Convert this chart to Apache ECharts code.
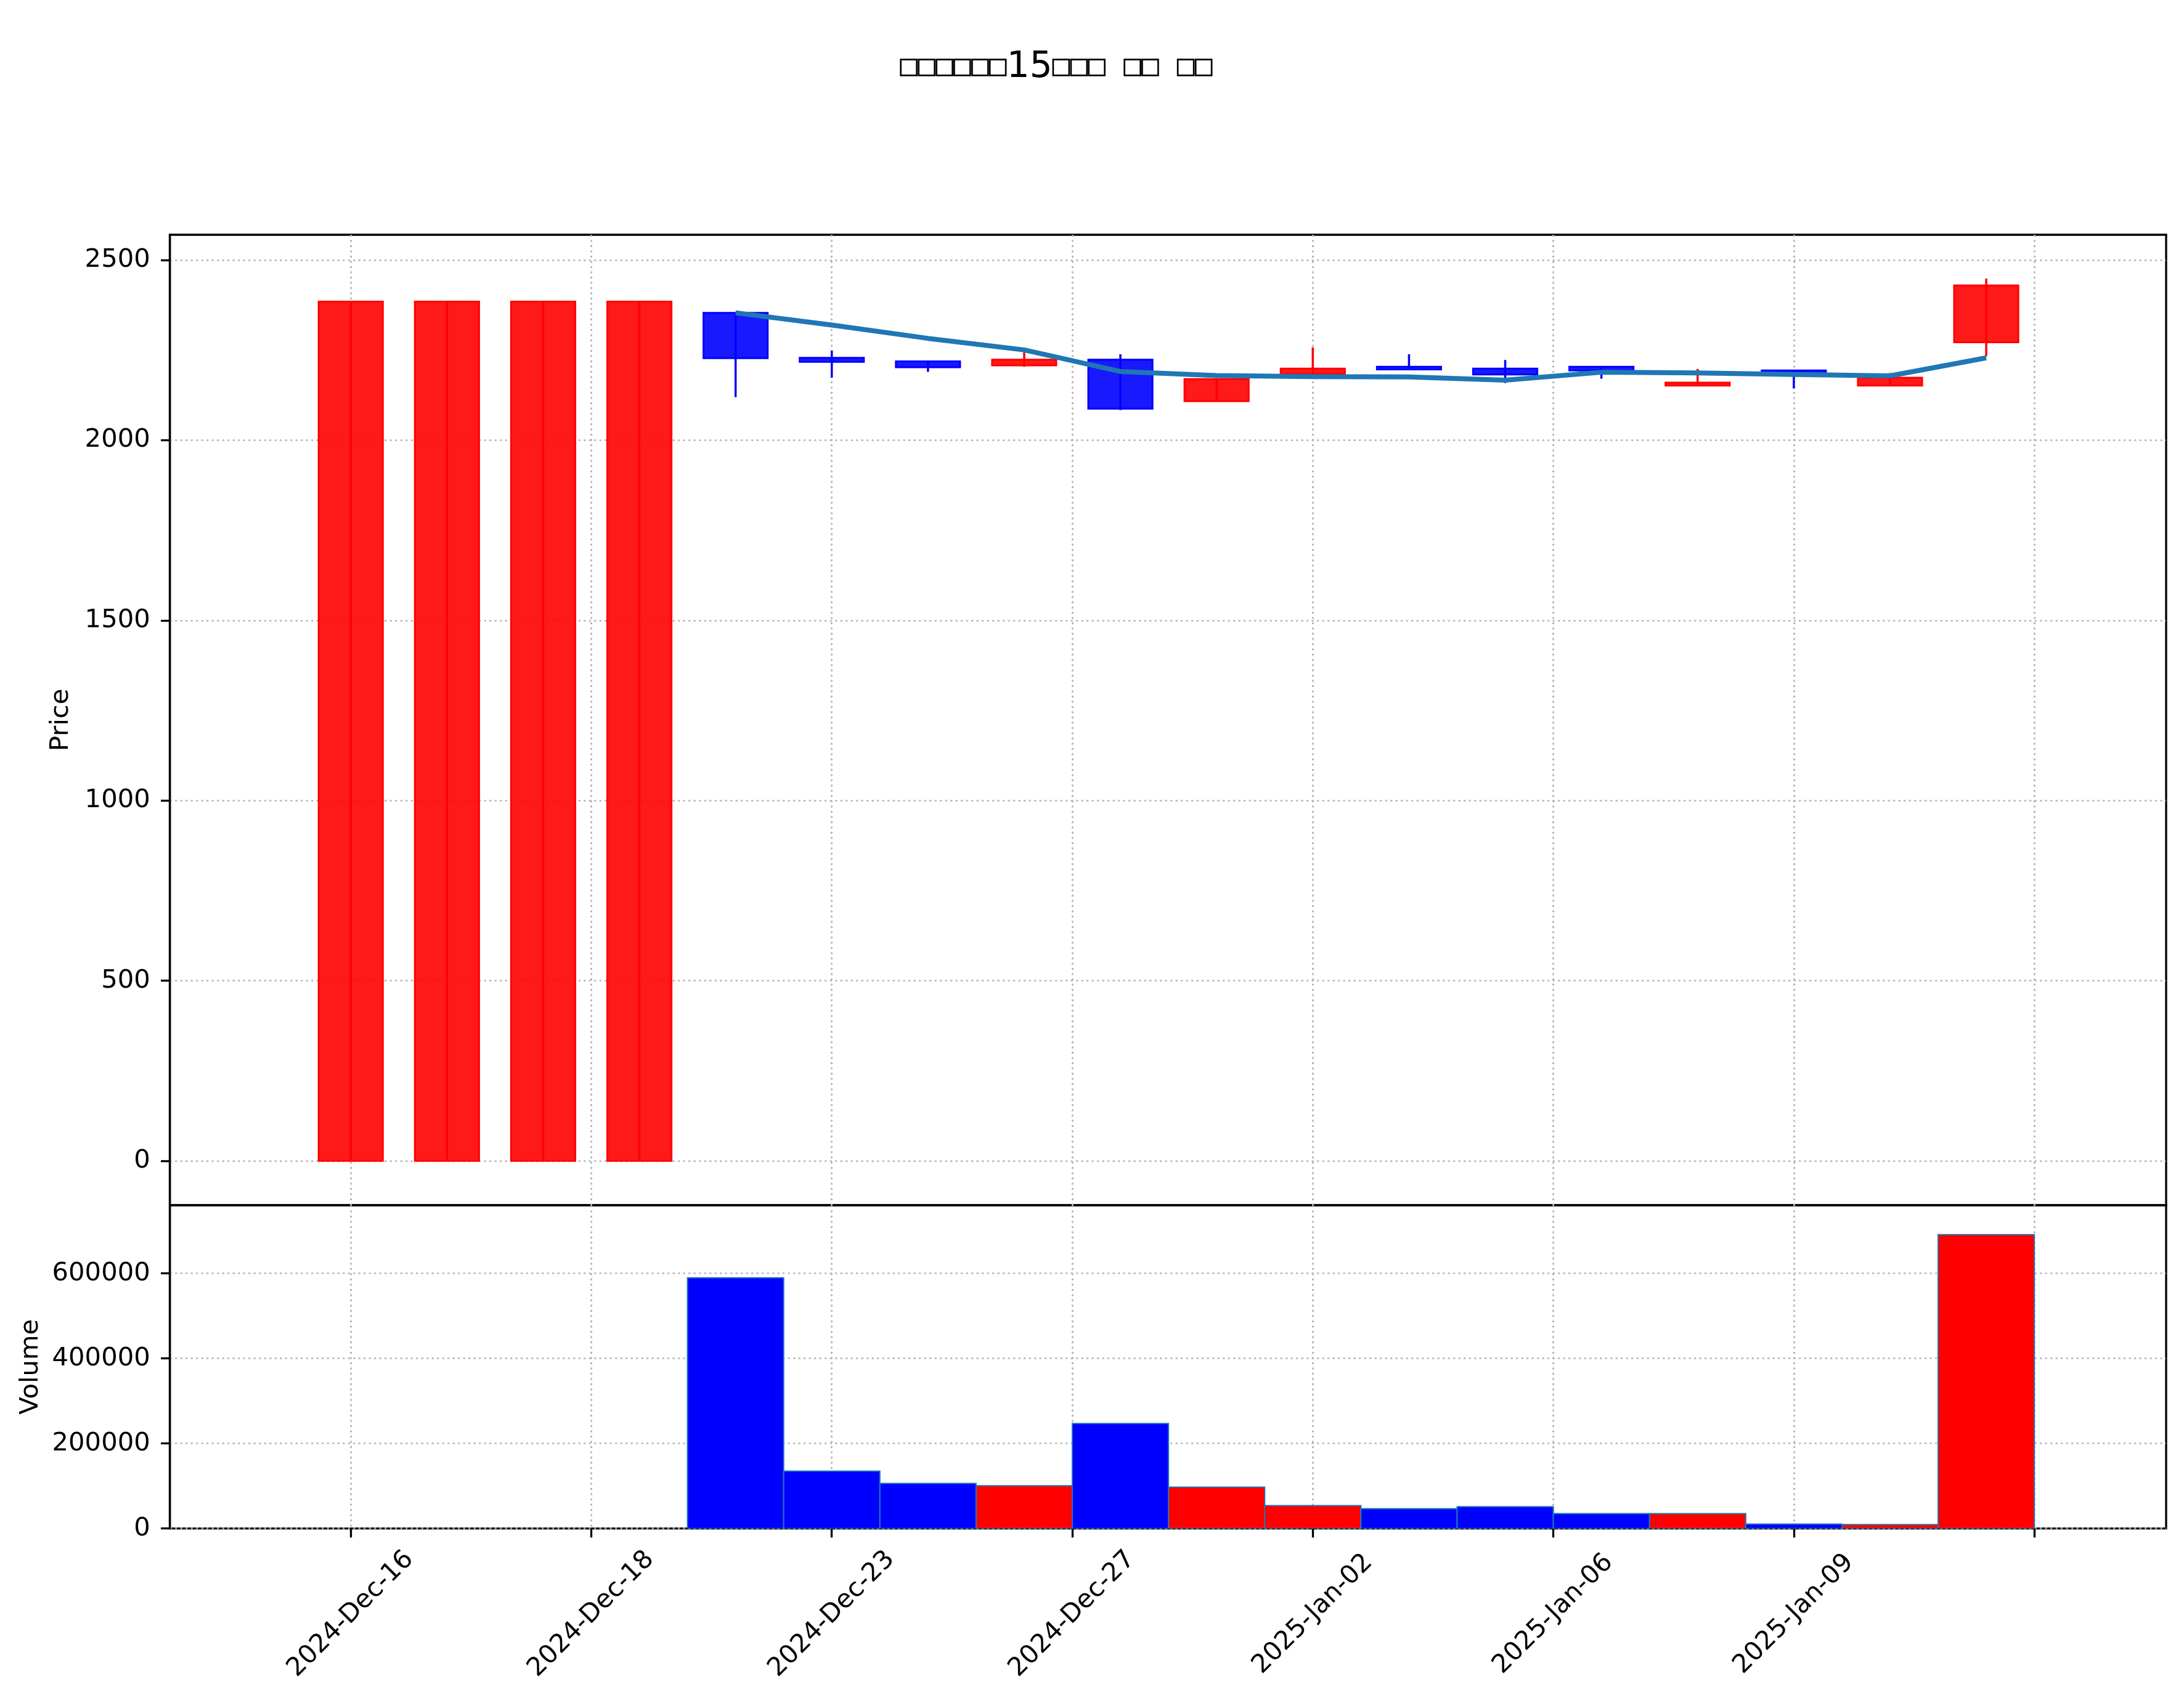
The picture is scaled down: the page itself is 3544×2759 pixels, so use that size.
<!DOCTYPE html>
<html><head><meta charset="utf-8">
<script src="https://cdn.jsdelivr.net/npm/echarts@6/dist/echarts.min.js"></script>
<style>html,body{margin:0;padding:0;background:#fff}#c{width:3544px;height:2759px}</style>
</head><body><div id="c"></div>
<script>
// ---- data ----
const dates = ['2024-Dec-16','2024-Dec-17','2024-Dec-18','2024-Dec-19','2024-Dec-20','2024-Dec-23','2024-Dec-24','2024-Dec-26','2024-Dec-27','2024-Dec-30','2025-Jan-02','2025-Jan-03','2025-Jan-06','2025-Jan-07','2025-Jan-08','2025-Jan-09','2025-Jan-10','2025-Jan-13'];
const opens  = [0, 0, 0, 0, 2354, 2229, 2219, 2208, 2224, 2109, 2184, 2204, 2199, 2204, 2152, 2194, 2152, 2272];
const closes = [2385, 2385, 2385, 2385, 2228, 2218, 2203, 2224, 2088, 2170, 2199, 2197, 2183, 2194, 2160, 2183, 2174, 2430];
const lows   = [0, 0, 0, 0, 2120, 2174, 2190, 2204, 2084, 2109, 2184, 2197, 2159, 2171, 2152, 2144, 2152, 2233];
const highs  = [2385, 2385, 2385, 2385, 2354, 2249, 2219, 2245, 2239, 2170, 2258, 2239, 2223, 2204, 2198, 2194, 2187, 2449];
const volumes = [0, 0, 0, 0, 589600, 135200, 106200, 100500, 247100, 97400, 53900, 46600, 51300, 35200, 35200, 10400, 9300, 691100];
const ma5 = [null, null, null, null, 2354, 2320, 2283, 2251, 2191, 2180, 2177, 2176, 2167, 2189, 2187, 2183, 2179, 2229];
const xTickPos = [0, 2.5, 5, 7.5, 10, 12.5, 15, 17.5];
const xTickLabels = ['2024-Dec-16','2024-Dec-18','2024-Dec-23','2024-Dec-27','2025-Jan-02','2025-Jan-06','2025-Jan-09',''];
const priceTicks = [0, 500, 1000, 1500, 2000, 2500];
const volumeTicks = [0, 200000, 400000, 600000];
const titleParts = ['□□□□□□', '15', '□□□ □□ □□'];

// ---- chart ----
const FONT = 'DejaVu Sans';
const FS = 41.7;
const UP = '#ff0000', DOWN = '#0000ff';
const BODY_W = 0.667;
const gridLine = {show: true, lineStyle: {color: '#b0b0b0', width: 2.7, type: [3, 5.5]}};
const tickStyle = {show: true, inside: false, length: 14.6, lineStyle: {color: '#000', width: 3.3}};

const candleData = dates.map((d, i) => [i, opens[i], closes[i], lows[i], highs[i]]);
const volData = dates.map((d, i) => [i, volumes[i], closes[i] >= opens[i] ? 1 : 0]);
const maData = dates.map((d, i) => [i, ma5[i]]).filter(p => p[1] != null);

const chart = echarts.init(document.getElementById('c'), null, {renderer: 'canvas'});
const xCommon = {
  type: 'value', min: -1.88, max: 18.87,
  axisLine: {show: false, onZero: false},
  splitLine: Object.assign({}, gridLine),
};
chart.setOption({
  animation: false,
  backgroundColor: '#fff',
  textStyle: {fontFamily: FONT},
  graphic: [{
    type: 'text', x: 1714, y: 110,
    style: {
      text: '{b|' + titleParts[0] + '}{n|' + titleParts[1] + '}{b|' + titleParts[2] + '}',
      rich: {b: {fontSize: 48, fontFamily: 'DejaVu Sans Mono', fill: '#000'}, n: {fontSize: 58, fontFamily: FONT, fill: '#000'}},
      textAlign: 'center', textVerticalAlign: 'middle', fill: '#000', font: '58px "DejaVu Sans"'
    }
  }],
  grid: [
    {left: 275.7, top: 381, width: 3239.3, height: 1575, show: true, borderColor: '#000', borderWidth: 3.3, containLabel: false},
    {left: 275.7, top: 1956, width: 3239.3, height: 524.7, show: true, borderColor: '#000', borderWidth: 3.3, containLabel: false}
  ],
  xAxis: [
    Object.assign({}, xCommon, {gridIndex: 0, axisTick: {show: false, customValues: xTickPos}, axisLabel: {show: false, customValues: xTickPos}}),
    Object.assign({}, xCommon, {gridIndex: 1,
      axisTick: Object.assign({}, tickStyle, {customValues: xTickPos}),
      axisLabel: {show: true, customValues: xTickPos, rotate: 45, align: 'center', verticalAlign: 'middle', margin: 139,
        fontFamily: FONT, fontSize: FS, color: '#000',
        formatter: v => { const k = xTickPos.findIndex(p => Math.abs(p - v) < 1e-6); return k >= 0 ? xTickLabels[k] : ''; }}
    })
  ],
  yAxis: [
    {type: 'value', gridIndex: 0, min: -123.1, max: 2570.6,
     name: 'Price', nameLocation: 'middle', nameRotate: 90, nameGap: 156,
     nameTextStyle: {fontFamily: FONT, fontSize: FS, color: '#000'},
     axisLine: {show: true, onZero: false, lineStyle: {color: '#000', width: 3.3}},
     axisTick: Object.assign({}, tickStyle, {customValues: priceTicks}),
     axisLabel: {customValues: priceTicks, fontFamily: FONT, fontSize: FS, color: '#000', margin: 32, formatter: v => String(v)},
     splitLine: Object.assign({}, gridLine)},
    {type: 'value', gridIndex: 1, min: 0, max: 760400,
     name: 'Volume', nameLocation: 'middle', nameRotate: 90, nameGap: 205,
     nameTextStyle: {fontFamily: FONT, fontSize: FS, color: '#000'},
     axisLine: {show: true, onZero: false, lineStyle: {color: '#000', width: 3.3}},
     axisTick: Object.assign({}, tickStyle, {customValues: volumeTicks}),
     axisLabel: {customValues: volumeTicks, fontFamily: FONT, fontSize: FS, color: '#000', margin: 32, formatter: v => String(v)},
     splitLine: Object.assign({}, gridLine)}
  ],
  series: [
    {
      type: 'custom', xAxisIndex: 0, yAxisIndex: 0, z: 2, clip: true,
      data: candleData,
      renderItem: (params, api) => {
        const x = api.value(0), o = api.value(1), c = api.value(2), l = api.value(3), h = api.value(4);
        const pO = api.coord([x, o]), pC = api.coord([x, c]), pL = api.coord([x, l]), pH = api.coord([x, h]);
        const w = api.size([BODY_W, 0])[0];
        const up = c >= o;
        const col = up ? UP : DOWN;
        const fill = up ? 'rgba(255,0,0,0.9)' : 'rgba(0,0,255,0.9)';
        const top = Math.min(pO[1], pC[1]);
        const hgt = Math.max(Math.abs(pO[1] - pC[1]), 0.5);
        return {type: 'group', children: [
          {type: 'line', shape: {x1: pH[0], y1: pH[1], x2: pL[0], y2: pL[1]}, style: {stroke: col, lineWidth: 3.5}},
          {type: 'rect', shape: {x: pO[0] - w / 2, y: top, width: w, height: hgt}, style: {fill: fill, stroke: col, lineWidth: 3}}
        ]};
      }
    },
    {
      type: 'line', xAxisIndex: 0, yAxisIndex: 0, z: 5, data: maData, symbol: 'none',
      lineStyle: {color: '#1f77b4', width: 8}, clip: true
    },
    {
      type: 'custom', xAxisIndex: 1, yAxisIndex: 1, z: 2, clip: true,
      data: volData,
      renderItem: (params, api) => {
        const x = api.value(0), v = api.value(1), up = api.value(2);
        if (!v) return null;
        const p0 = api.coord([x - 0.5, 0]), p1 = api.coord([x + 0.5, v]);
        return {type: 'rect', shape: {x: p0[0], y: p1[1], width: p1[0] - p0[0], height: p0[1] - p1[1]},
          style: {fill: up ? UP : DOWN, stroke: '#1f77b4', lineWidth: 2}};
      }
    }
  ]
});
</script>
</body></html>
